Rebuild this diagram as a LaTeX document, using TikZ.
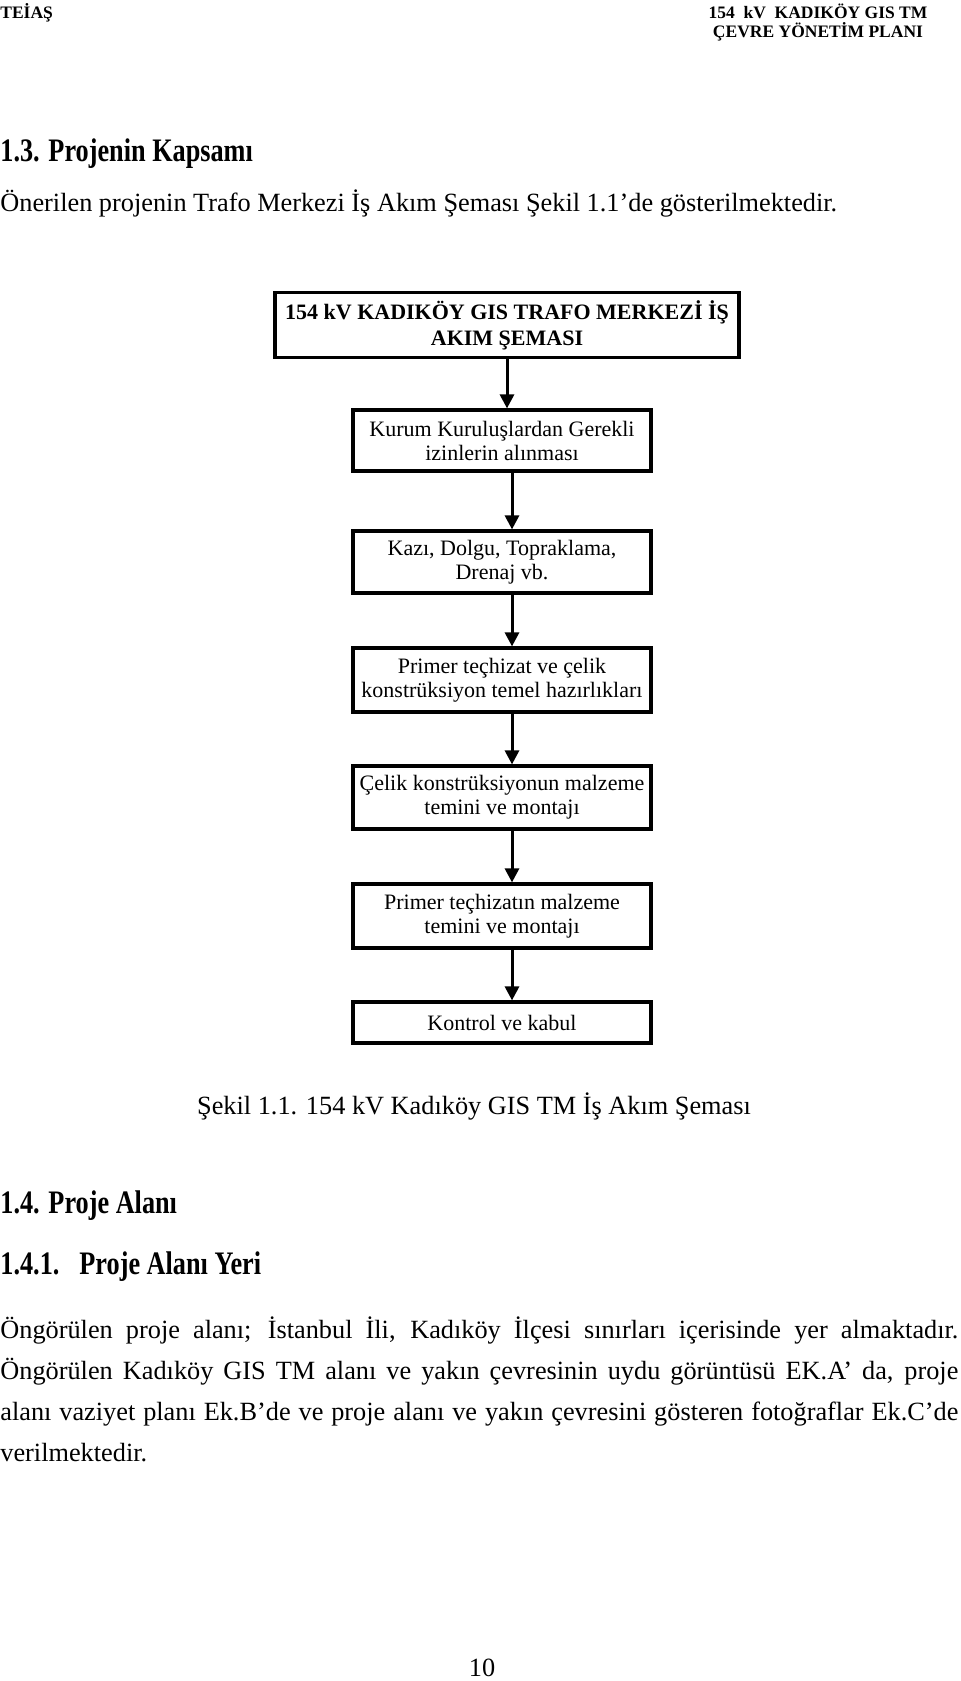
\documentclass[tikz,border=0pt]{standalone}
\usepackage{fontspec}
\setmainfont{Liberation Serif}
\newfontfamily\headfont[FakeStretch=0.8]{Liberation Serif}
\usepackage{tikz}
\usetikzlibrary{arrows.meta}
\newcommand\bodyfont{\fontsize{13.15}{20.5}\selectfont}
\newcommand\boxfont{\fontsize{11}{12}\selectfont}
\newcommand\titlefont{\fontsize{11}{13}\selectfont\bfseries}
\newcommand\headerfont{\fontsize{8.75}{9.5}\selectfont\bfseries}
\newcommand\secfont{\headfont\fontsize{16.4}{18}\selectfont\bfseries}
\newcommand\fullline[1]{\makebox[479pt][s]{#1}}
\tikzstyle{flowhead}=[>/.tip={Triangle[length=7pt,width=7pt]}]
\tikzstyle{flow} =[line width=1.5pt,flowhead,->]
\tikzstyle{stepbox}=[draw,line width=1.6pt,align=center,minimum width=149pt,minimum height=31.5pt,inner sep=0pt,font=\boxfont]
\tikzstyle{txt}=[inner sep=0pt,anchor=west]

\begin{document}
\begin{tikzpicture}[x=.5pt,y=-.5pt]
	\path[fill=white,use as bounding box] (0,0) rectangle (960,1681);
	% page head
	\node[txt,font=\headerfont] (firm) at (0,13) {TEİAŞ};
	\node[inner sep=0pt,align=center,font=\headerfont] (plan) at (818,22.5) {154~ kV~ KADIKÖY GIS TM\\ÇEVRE YÖNETİM PLANI};
	\node[txt,font=\secfont] (sec13) at (0,154) {1.3. Projenin Kapsamı};
	\node[txt,font=\bodyfont] (intro) at (0,203) {Önerilen projenin Trafo Merkezi İş Akım Şeması Şekil 1.1’de gösterilmektedir.};
	% flow chart
	\node[stepbox,font=\titlefont,minimum width=232pt,minimum height=32.5pt] (head) at (507,325) {154 kV KADIKÖY GIS TRAFO MERKEZİ İŞ\\AKIM ŞEMASI};
	\node[stepbox,minimum height=30.5pt] (izin) at (502,440.5) {Kurum Kuruluşlardan Gerekli\\izinlerin alınması};
	\node[stepbox,minimum height=31pt] (kazi) at (502,562) {Kazı, Dolgu, Topraklama,\\Drenaj vb.};
	\node[stepbox,minimum height=32pt] (temel) at (502,680) {Primer teçhizat ve çelik\\konstrüksiyon temel hazırlıkları};
	\node[stepbox] (celik) at (502,797.5) {Çelik konstrüksiyonun malzeme\\temini ve montajı};
	\node[stepbox,minimum height=32pt] (primer) at (502,916) {Primer teçhizatın malzeme\\temini ve montajı};
	\node[stepbox,minimum height=20.5pt] (kabul) at (502,1022.5) {Kontrol ve kabul};
	\draw[flow] (head) -- (head.south |- izin.north);
	\draw[flow] ([xshift=5pt]izin.south) -- ([xshift=5pt]kazi.north);
	\draw[flow] ([xshift=5pt]kazi.south) -- ([xshift=5pt]temel.north);
	\draw[flow] ([xshift=5pt]temel.south) -- ([xshift=5pt]celik.north);
	\draw[flow] ([xshift=5pt]celik.south) -- ([xshift=5pt]primer.north);
	\draw[flow] ([xshift=5pt]primer.south) -- ([xshift=5pt]kabul.north);
	\node[inner sep=0pt,font=\bodyfont] (caption) at (474,1106) {Şekil 1.1. 154 kV Kadıköy GIS TM İş Akım Şeması};
	% project area
	\node[txt,font=\secfont] (sec14) at (0,1206) {1.4. Proje Alanı};
	\node[txt,font=\secfont] (sec141) at (0,1267) {1.4.1.\hspace{10pt}Proje Alanı Yeri};
	\node[inner sep=0pt,anchor=north west,align=left,font=\bodyfont] (area) at (0,1316) {%
		\fullline{Öngörülen proje alanı; İstanbul İli, Kadıköy İlçesi sınırları içerisinde yer almaktadır.}\\
		\fullline{Öngörülen Kadıköy GIS TM alanı ve yakın çevresinin uydu görüntüsü EK.A’ da, proje}\\
		\fullline{alanı vaziyet planı Ek.B’de ve proje alanı ve yakın çevresini gösteren fotoğraflar Ek.C’de}\\
		verilmektedir.};
	\node[inner sep=0pt,font=\bodyfont] (pageno) at (482,1668) {10};
\end{tikzpicture}
\end{document}
